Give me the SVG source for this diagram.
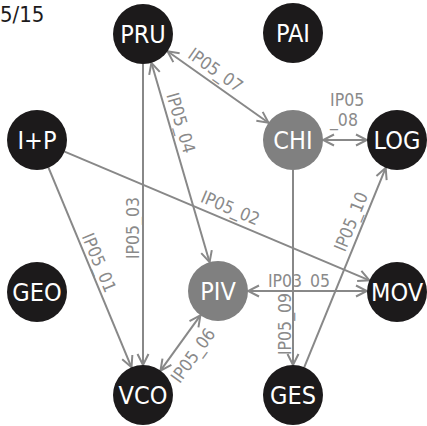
<svg xmlns="http://www.w3.org/2000/svg" width="427" height="426" viewBox="0 0 427 426">
  <style>
    .node-dark { fill: #1c1a1b; }
    .node-grey { fill: #808080; }
    .node-label { fill: #ffffff; font-family: "DejaVu Sans Condensed", "DejaVu Sans", sans-serif; font-stretch: condensed; font-size: 25px; text-anchor: middle; }
    .edge { stroke: #888888; stroke-width: 2; fill: none; }
    .edge-label { fill: #8a8a8a; font-family: "DejaVu Sans Condensed", "DejaVu Sans", sans-serif; font-stretch: condensed; font-size: 17.5px; text-anchor: middle; }
    .page { fill: #1c1a1b; font-family: "DejaVu Sans Condensed", "DejaVu Sans", sans-serif; font-stretch: condensed; font-size: 22px; }
  </style>
  <defs>
    <marker id="chevron" viewBox="-13 -7 15 14" markerWidth="15" markerHeight="14" refX="0" refY="0" markerUnits="userSpaceOnUse" orient="auto-start-reverse">
      <path d="M-11,-5.5 L0,0 L-11,5.5" fill="none" stroke="#888888" stroke-width="2"/>
    </marker>
  </defs>

  <rect width="427" height="426" fill="#ffffff"/>
  <text class="page" x="0" y="22">5/15</text>

  <g id="connectors">
    <!-- PRU <-> CHI -->
    <line class="edge" x1="167.5" y1="51.3" x2="268.5" y2="122.7" marker-start="url(#chevron)" marker-end="url(#chevron)"/>
    <text class="edge-label" transform="translate(212,75) rotate(35.25)">IP05_07</text>
    <!-- PRU <-> PIV -->
    <line class="edge" x1="151.4" y1="62.8" x2="209.6" y2="262.2" marker-start="url(#chevron)" marker-end="url(#chevron)"/>
    <text class="edge-label" transform="translate(175,124.5) rotate(73.7)">IP05_04</text>
    <!-- PRU -> VCO -->
    <line class="edge" x1="143" y1="64" x2="143" y2="365" marker-end="url(#chevron)"/>
    <text class="edge-label" transform="translate(138.5,228) rotate(-90)">IP05_03</text>
    <!-- I+P -> VCO -->
    <line class="edge" x1="48.5" y1="167.7" x2="131.5" y2="367.3" marker-end="url(#chevron)"/>
    <text class="edge-label" transform="translate(93.4,265) rotate(67.4)">IP05_01</text>
    <!-- I+P -> MOV -->
    <line class="edge" x1="64.6" y1="151.7" x2="369.4" y2="280.3" marker-end="url(#chevron)"/>
    <text class="edge-label" transform="translate(228,213.6) rotate(22.9)">IP05_02</text>
    <!-- CHI <-> LOG -->
    <line class="edge" x1="323" y1="140" x2="367" y2="140" marker-start="url(#chevron)" marker-end="url(#chevron)"/>
    <text class="edge-label" x="330" y="106" style="text-anchor:start">IP05</text>
    <text class="edge-label" x="330" y="126" style="text-anchor:start">_08</text>
    <!-- CHI -> GES -->
    <line class="edge" x1="293" y1="170" x2="293" y2="365" marker-end="url(#chevron)"/>
    <text class="edge-label" transform="translate(290.5,324) rotate(-90)">IP05_09</text>
    <!-- GES -> LOG -->
    <line class="edge" x1="304.3" y1="367.2" x2="385.7" y2="167.8" marker-end="url(#chevron)"/>
    <text class="edge-label" transform="translate(356.6,224) rotate(-67.8)">IP05_10</text>
    <!-- PIV <-> MOV -->
    <line class="edge" x1="248" y1="291" x2="367" y2="291" marker-start="url(#chevron)" marker-end="url(#chevron)"/>
    <text class="edge-label" x="299" y="287">IP03_05</text>
    <!-- PIV <-> VCO -->
    <line class="edge" x1="200.4" y1="315.3" x2="160.5" y2="370.7" marker-start="url(#chevron)" marker-end="url(#chevron)"/>
    <text class="edge-label" transform="translate(198,359) rotate(-54.2)">IP05_06</text>
  </g>

  <g id="PRU"><circle class="node-dark" cx="143" cy="34" r="30"/><text class="node-label" x="143" y="43">PRU</text></g>
  <g id="PAI"><circle class="node-dark" cx="293" cy="33" r="30"/><text class="node-label" x="293" y="42">PAI</text></g>
  <g id="IP"><circle class="node-dark" cx="37" cy="140" r="30"/><text class="node-label" x="37" y="149">I+P</text></g>
  <g id="CHI"><circle class="node-grey" cx="293" cy="140" r="30"/><text class="node-label" x="293" y="149">CHI</text></g>
  <g id="LOG"><circle class="node-dark" cx="397" cy="140" r="30"/><text class="node-label" x="397" y="149">LOG</text></g>
  <g id="GEO"><circle class="node-dark" cx="37" cy="292" r="30"/><text class="node-label" x="37" y="301">GEO</text></g>
  <g id="PIV"><circle class="node-grey" cx="218" cy="291" r="30"/><text class="node-label" x="218" y="300">PIV</text></g>
  <g id="MOV"><circle class="node-dark" cx="397" cy="292" r="30"/><text class="node-label" x="397" y="301">MOV</text></g>
  <g id="VCO"><circle class="node-dark" cx="143" cy="395" r="30"/><text class="node-label" x="143" y="404">VCO</text></g>
  <g id="GES"><circle class="node-dark" cx="293" cy="395" r="30"/><text class="node-label" x="293" y="404">GES</text></g>
</svg>
